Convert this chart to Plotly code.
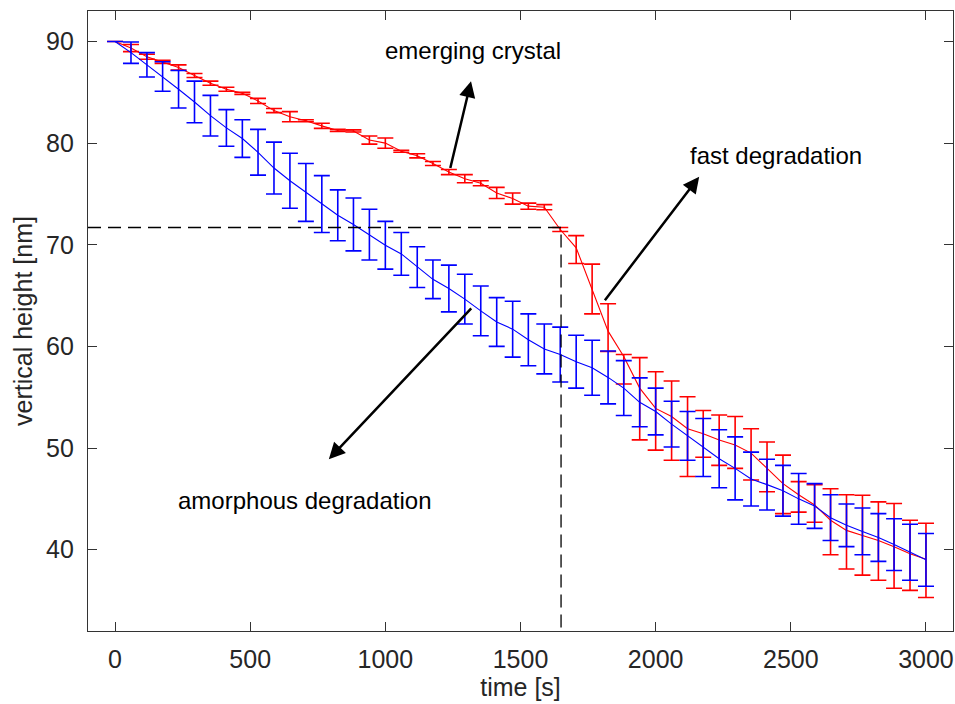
import plotly.graph_objects as go

# ---- data ----
time_s = [0, 59, 118, 176, 235, 294, 353, 412, 471, 529, 588, 647, 706, 765, 824, 882,
          941, 1000, 1059, 1118, 1176, 1235, 1294, 1353, 1412, 1471, 1529, 1588, 1647,
          1706, 1765, 1824, 1882, 1941, 2000, 2059, 2118, 2176, 2235, 2294, 2353, 2412,
          2471, 2529, 2588, 2647, 2706, 2765, 2824, 2882, 2941, 3000]

blue_mean = [90.0, 88.9, 87.7, 86.55, 85.3, 84.05, 82.7, 81.5, 80.45, 79.1, 77.55, 76.3,
             75.15, 74.0, 72.9, 72.0, 71.0, 69.95, 69.1, 67.8, 66.6, 65.7, 64.65, 63.5,
             62.4, 61.7, 60.65, 59.75, 59.2, 58.5, 57.9, 56.95, 55.9, 54.5, 53.6, 52.35,
             51.2, 50.05, 48.95, 48.0, 46.95, 46.4, 45.8, 45.0, 44.3, 43.15, 42.4, 41.8,
             41.2, 40.5, 39.75, 39.0]
blue_err = [0, 1.05, 1.2, 1.45, 1.85, 2.05, 2.0, 1.8, 1.85, 2.25, 2.55, 2.7, 2.85, 2.8,
            2.5, 2.6, 2.5, 2.35, 2.1, 2.0, 1.9, 2.3, 2.45, 2.45, 2.4, 2.75, 2.55, 2.45,
            2.7, 2.6, 2.7, 2.6, 2.7, 2.4, 2.3, 2.25, 2.4, 2.85, 2.85, 3.1, 2.65, 2.5, 2.5,
            2.5, 2.2, 2.25, 2.1, 2.3, 2.35, 2.55, 2.75, 2.6]

red_mean = [90.0, 89.35, 88.5, 88.0, 87.45, 86.65, 85.9, 85.3, 84.9, 84.15, 83.2, 82.6,
            82.2, 81.7, 81.25, 81.2, 80.3, 80.0, 79.2, 78.75, 78.0, 77.15, 76.5, 76.05,
            75.1, 74.55, 73.8, 73.7, 71.5, 69.7, 65.6, 61.5, 59.0, 55.9, 53.9, 53.1,
            51.9, 51.4, 50.8, 50.3, 49.5, 48.0, 46.5, 45.4, 44.4, 42.9, 41.9, 41.4,
            40.9, 40.3, 39.6, 39.05]
red_err_plus = [0, 0.35, 0.25, 0.15, 0.25, 0.2, 0.2, 0.2, 0.1, 0.25, 0.2, 0.5, 0.1, 0.25,
                0.1, 0.1, 0.4, 0.5, 0.1, 0.2, 0.2, 0.25, 0.4, 0.25, 0.55, 0.55, 0.3, 0.25,
                0.2, 1.2, 2.5, 2.7, 0.2, 3.0, 3.6, 3.5, 3.15, 2.3, 2.45, 2.8, 2.4, 2.6,
                2.8, 1.3, 2.0, 3.1, 3.5, 3.95, 3.8, 4.25, 3.3, 3.55]
red_err_minus = [0, 0.35, 0.25, 0.15, 0.25, 0.2, 0.2, 0.2, 0.1, 0.25, 0.2, 0.5, 0.1, 0.25,
                 0.1, 0.1, 0.4, 0.5, 0.1, 0.2, 0.2, 0.25, 0.4, 0.25, 0.55, 0.55, 0.3, 0.25,
                 0.2, 1.55, 2.4, 2.0, 2.7, 5.1, 4.1, 4.3, 4.7, 2.3, 2.5, 2.3, 2.65, 2.3,
                 2.95, 1.7, 1.7, 3.4, 3.8, 3.9, 3.9, 4.1, 3.6, 3.75]

# transition marker (dashed guide lines)
transition_t = 1650
transition_h = 71.7

x_ticks = [0, 500, 1000, 1500, 2000, 2500, 3000]
y_ticks = [40, 50, 60, 70, 80, 90]
x_range = [-100, 3100]
y_range = [32, 93]

# annotations: (text, text_x, text_y) and arrows: (head_x, head_y, tail_x, tail_y)
labels = [("emerging crystal", 1325, 89.1),
          ("fast degradation", 2447, 78.8),
          ("amorphous degradation", 703, 44.8)]
arrows = [(1317, 86.1, 1239, 77.4),
          (2161, 76.7, 1808, 64.4),
          (791, 48.9, 1323, 63.9)]

FONT = "Liberation Sans, Arial, Helvetica, sans-serif"

fig = go.Figure()

fig.add_trace(go.Scatter(
    x=time_s, y=red_mean, mode="lines",
    line=dict(color="#FF0000", width=1.1),
    error_y=dict(type="data", symmetric=False, array=red_err_plus,
                 arrayminus=red_err_minus, color="#FF0000", thickness=1.6, width=8),
    showlegend=False, hoverinfo="skip"))

fig.add_trace(go.Scatter(
    x=time_s, y=blue_mean, mode="lines",
    line=dict(color="#0000FF", width=1.1),
    error_y=dict(type="data", array=blue_err, color="#0000FF", thickness=1.6, width=8),
    showlegend=False, hoverinfo="skip"))

# dashed guides
fig.add_trace(go.Scatter(
    x=[x_range[0], transition_t, transition_t], y=[transition_h, transition_h, y_range[0]],
    mode="lines", line=dict(color="black", width=1.3, dash="13px,7px"),
    showlegend=False, hoverinfo="skip"))

for (txt, tx, ty) in labels:
    fig.add_annotation(x=tx, y=ty, xref="x", yref="y", text=txt, showarrow=False,
                       font=dict(family=FONT, size=24, color="black"))

for (hx, hy, tx, ty) in arrows:
    fig.add_annotation(x=hx, y=hy, ax=tx, ay=ty, xref="x", yref="y", axref="x", ayref="y",
                       text="", showarrow=True, arrowhead=2, arrowsize=1.3,
                       arrowwidth=2.5, arrowcolor="black")

axis_common = dict(showline=True, linecolor="#333333", linewidth=1.3, mirror="ticks",
                   ticks="inside", ticklen=9, tickwidth=1.3, tickcolor="#333333",
                   showgrid=False, zeroline=False,
                   tickfont=dict(family=FONT, size=25, color="#262626"))

fig.update_xaxes(range=x_range, tickvals=x_ticks, ticktext=[str(v) for v in x_ticks],
                 title=dict(text="time [s]", font=dict(family=FONT, size=25, color="#262626"),
                            standoff=2),
                 ticklabelstandoff=6, **axis_common)
fig.update_yaxes(range=y_range, tickvals=y_ticks, ticktext=[str(v) for v in y_ticks],
                 title=dict(text="vertical height [nm]",
                            font=dict(family=FONT, size=25, color="#262626"), standoff=6),
                 ticklabelstandoff=8, **axis_common)

fig.update_layout(width=955, height=704, margin=dict(l=88, r=2, t=11, b=73),
                  paper_bgcolor="white", plot_bgcolor="white",
                  font=dict(family=FONT))

fig.write_html("out.html")
